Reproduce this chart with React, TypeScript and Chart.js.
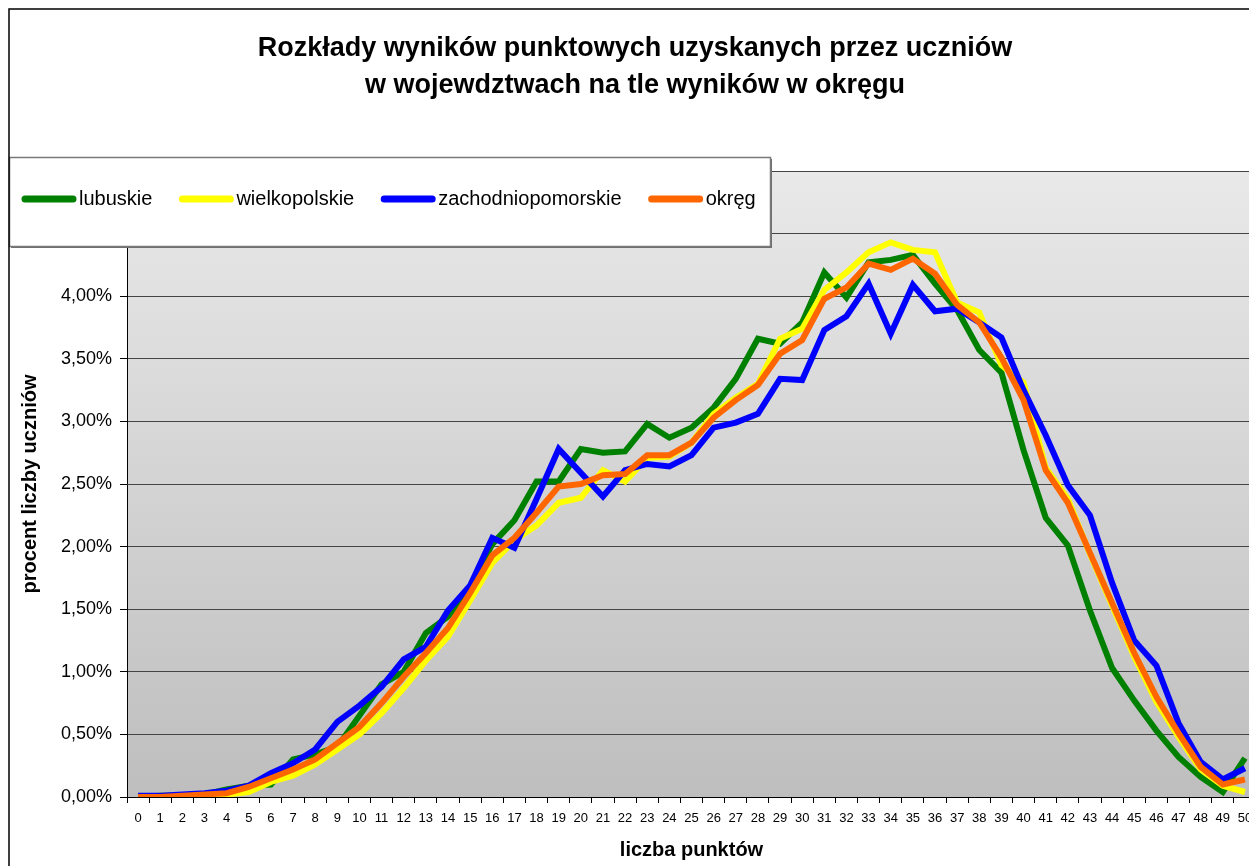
import React, { useEffect, useRef } from "react";
import { Chart, registerables } from "chart.js";

Chart.register(...registerables);

const FONT = "'Liberation Sans', Arial, Helvetica, sans-serif";

const chartTitle = [
  "Rozkłady wyników punktowych uzyskanych przez uczniów",
  "w wojewdztwach na tle wyników w okręgu",
];
const xTitle = "liczba punktów";
const yTitle = "procent liczby uczniów";

const categories = [
  "0", "1", "2", "3", "4", "5", "6", "7", "8", "9",
  "10", "11", "12", "13", "14", "15", "16", "17", "18", "19",
  "20", "21", "22", "23", "24", "25", "26", "27", "28", "29",
  "30", "31", "32", "33", "34", "35", "36", "37", "38", "39",
  "40", "41", "42", "43", "44", "45", "46", "47", "48", "49", "50",
];

const seriesNames = ["lubuskie", "wielkopolskie", "zachodniopomorskie", "okręg"];
const seriesColors = ["#008000", "#ffff00", "#0000ff", "#ff6600"];

const lubuskie = [
  0.0, 0.01, 0.01, 0.02, 0.06, 0.09, 0.1, 0.3, 0.34, 0.4,
  0.65, 0.9, 1.0, 1.31, 1.44, 1.68, 2.02, 2.21, 2.52, 2.52,
  2.78, 2.75, 2.76, 2.98, 2.87, 2.95, 3.11, 3.34, 3.66, 3.62,
  3.79, 4.19, 3.99, 4.27, 4.29, 4.33, 4.1, 3.89, 3.57, 3.39,
  2.77, 2.23, 2.01, 1.49, 1.03, 0.77, 0.53, 0.32, 0.16, 0.04, 0.31,
];

const wielkopolskie = [
  0.0, 0.01, 0.01, 0.01, 0.02, 0.04, 0.12, 0.17, 0.26, 0.38,
  0.5, 0.67, 0.87, 1.09, 1.28, 1.57, 1.87, 2.05, 2.17, 2.35,
  2.39, 2.61, 2.52, 2.71, 2.72, 2.83, 3.06, 3.19, 3.3, 3.66,
  3.74, 4.05, 4.19, 4.35, 4.43, 4.37, 4.35, 3.95, 3.87, 3.45,
  3.31, 2.63, 2.38, 1.94, 1.53, 1.12, 0.76, 0.48, 0.22, 0.09, 0.04,
];

const zachodniopomorskie = [
  0.01, 0.01, 0.02, 0.03, 0.05, 0.09, 0.19, 0.27, 0.38, 0.6,
  0.73, 0.88, 1.1, 1.2, 1.49, 1.69, 2.07, 1.99, 2.38, 2.78,
  2.59, 2.4, 2.61, 2.66, 2.64, 2.73, 2.95, 2.99, 3.06, 3.34,
  3.33, 3.73, 3.84, 4.1, 3.7, 4.09, 3.88, 3.9, 3.79, 3.67,
  3.25, 2.89, 2.49, 2.25, 1.71, 1.25, 1.05, 0.59, 0.28, 0.14, 0.23,
];

const okreg = [
  0.0, 0.0, 0.01, 0.02, 0.03, 0.08, 0.15, 0.22, 0.3, 0.43,
  0.56, 0.75, 0.96, 1.15, 1.35, 1.63, 1.93, 2.07, 2.27, 2.48,
  2.5, 2.57, 2.58, 2.73, 2.73, 2.83, 3.03, 3.17, 3.29, 3.54,
  3.65, 3.98, 4.07, 4.26, 4.21, 4.3, 4.18, 3.93, 3.79, 3.51,
  3.17, 2.61, 2.35, 1.95, 1.55, 1.15, 0.8, 0.51, 0.24, 0.1, 0.14,
];

const seriesValues = [lubuskie, wielkopolskie, zachodniopomorskie, okreg];

const W = 1254;
const H = 875;

const decorPlugin = {
  id: "decor",
  beforeDraw(chart: any) {
    const { ctx, chartArea } = chart;
    ctx.save();
    ctx.fillStyle = "#ffffff";
    ctx.fillRect(0, 0, chart.width, chart.height);
    const g = ctx.createLinearGradient(0, chartArea.top, 0, chartArea.bottom);
    g.addColorStop(0, "#e9e9e9");
    g.addColorStop(1, "#bebebe");
    ctx.fillStyle = g;
    ctx.fillRect(chartArea.left, chartArea.top, chartArea.right - chartArea.left, chartArea.bottom - chartArea.top);
    ctx.restore();
  },
  afterDraw(chart: any) {
    const { ctx } = chart;
    ctx.save();
    // title
    ctx.fillStyle = "#000";
    ctx.font = `bold 27px ${FONT}`;
    ctx.textAlign = "center";
    ctx.textBaseline = "middle";
    ctx.fillText(chartTitle[0], chart.width / 2, 41);
    ctx.fillText(chartTitle[1], chart.width / 2, 78);

    // legend box
    const lx = 1, ly = 149, lw = 761, lh = 89;
    ctx.fillStyle = "#6e6e6e";
    ctx.fillRect(lx + 2, ly + 2, lw, lh);
    ctx.fillStyle = "#ffffff";
    ctx.fillRect(lx, ly, lw, lh);
    ctx.strokeStyle = "#7a7a7a";
    ctx.lineWidth = 1.5;
    ctx.strokeRect(lx + 0.5, ly + 0.5, lw, lh);

    ctx.font = `20px ${FONT}`;
    ctx.textAlign = "left";
    ctx.textBaseline = "middle";
    const cy = 191;
    let x = 14;
    chart.data.datasets.forEach((ds: any) => {
      ctx.strokeStyle = ds.borderColor;
      ctx.lineWidth = 7;
      ctx.lineCap = "round";
      ctx.beginPath();
      ctx.moveTo(x + 3, cy);
      ctx.lineTo(x + 51, cy);
      ctx.stroke();
      ctx.fillStyle = "#000";
      const tx = x + 57;
      ctx.fillText(ds.label, tx, cy);
      x = tx + ctx.measureText(ds.label).width + 27;
    });

    // outer frame
    ctx.strokeStyle = "#000";
    ctx.lineWidth = 1.5;
    ctx.strokeRect(1, 1, chart.width - 2, chart.height - 2);
    ctx.restore();
  },
};

export default function App() {
  const ref = useRef<HTMLCanvasElement | null>(null);

  useEffect(() => {
    if (!ref.current) return;
    Chart.defaults.font.family = FONT;
    const orders = [4, 3, 2, 1];
    const chart = new Chart(ref.current, {
      type: "line",
      data: {
        labels: categories,
        datasets: seriesNames.map((name, i) => ({
          label: name,
          data: seriesValues[i],
          borderColor: seriesColors[i],
          backgroundColor: seriesColors[i],
          borderWidth: 6,
          pointRadius: 0,
          pointHoverRadius: 0,
          tension: 0,
          fill: false,
          order: orders[i],
          borderJoinStyle: "miter" as const,
        })),
      },
      options: {
        responsive: false,
        animation: false,
        devicePixelRatio: 1,
        events: [],
        layout: { padding: { top: 163, left: 0, right: 6, bottom: 0 } },
        plugins: {
          legend: { display: false },
          title: { display: false },
          tooltip: { enabled: false },
        },
        scales: {
          x: {
            type: "category",
            offset: true,
            grid: {
              offset: true,
              drawOnChartArea: false,
              drawTicks: true,
              tickLength: 6,
              tickColor: "#000",
            },
            border: { display: true, color: "#000", width: 1 },
            ticks: {
              autoSkip: false,
              maxRotation: 0,
              minRotation: 0,
              padding: 8,
              color: "#000",
              font: { size: 13 },
            },
            title: {
              display: true,
              text: xTitle,
              color: "#000",
              font: { size: 20, weight: "bold" },
              padding: { top: 0, bottom: 21 },
            },
            afterFit: (s: any) => {
              s.height = 86;
            },
          },
          y: {
            min: 0,
            max: 5,
            ticks: {
              stepSize: 0.5,
              padding: 8,
              color: "#000",
              font: { size: 18 },
              callback: (v: any) => Number(v).toFixed(2).replace(".", ",") + "%",
            },
            grid: {
              color: "#444",
              lineWidth: 1,
              drawTicks: true,
              tickLength: 7,
              tickColor: "#000",
            },
            border: { display: true, color: "#000", width: 1 },
            title: {
              display: true,
              text: yTitle,
              color: "#000",
              font: { size: 20, weight: "bold" },
              padding: { top: 10, bottom: 0 },
            },
            afterFit: (s: any) => {
              s.width = 119;
            },
          },
        },
      },
      plugins: [decorPlugin],
    } as any);
    return () => chart.destroy();
  }, []);

  return (
    <div
      style={{
        position: "fixed",
        left: 8,
        top: 8,
        right: 0,
        bottom: 0,
        overflow: "hidden",
        background: "#fff",
      }}
    >
      <canvas ref={ref} width={W} height={H} style={{ display: "block", width: W, height: H }} />
    </div>
  );
}
